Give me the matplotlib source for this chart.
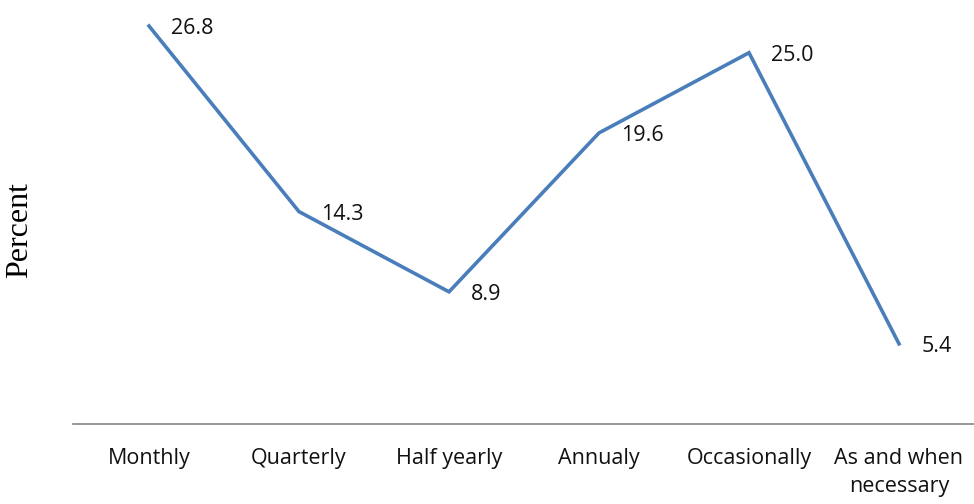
#!/usr/bin/env python3
"""Line chart of how often respondents do it, in percent."""

import matplotlib
matplotlib.use("Agg")
import matplotlib.pyplot as plt

categories = ["Monthly", "Quarterly", "Half yearly", "Annualy", "Occasionally",
              "As and when\nnecessary"]
percent = [26.8, 14.3, 8.9, 19.6, 25.0, 5.4]

LINE_COLOR = "#4a7ebb"
AXIS_COLOR = "#868686"
DPI = 100


def main() -> None:
    fig = plt.figure(figsize=(974 / DPI, 504 / DPI), dpi=DPI)
    ax = fig.add_axes([74 / 974, 80 / 504, 900 / 974, 424 / 504])

    x = list(range(len(categories)))
    ax.plot(x, percent, color=LINE_COLOR, linewidth=2.6, solid_joinstyle="miter")

    for xi, val in zip(x, percent):
        ax.annotate(f"{val:.1f}", (xi, val), xytext=(16, -2), textcoords="offset points",
                    ha="left", va="center", fontsize=15.5, family="Open Sans", color="#111111")

    ax.set_xlim(-0.5, len(categories) - 0.5)
    ax.set_ylim(0, 28.55)
    ax.set_xticks(x)
    ax.set_xticklabels(categories, fontsize=15.5, family="Open Sans", color="#111111",
                       linespacing=1.45, va="top")
    ax.tick_params(axis="x", length=0, pad=17)
    ax.set_yticks([])

    for side in ("top", "right", "left"):
        ax.spines[side].set_visible(False)
    ax.spines["bottom"].set_color(AXIS_COLOR)
    ax.spines["bottom"].set_linewidth(1.2)
    ax.spines["bottom"].set_bounds(-0.51, len(categories) - 0.5)

    ax.set_ylabel("Percent", family="Liberation Serif", fontsize=23)
    ax.yaxis.set_label_coords(-40 / 900, (424 - 230) / 424)

    fig.savefig("out.png", dpi=DPI, facecolor="white")
    plt.close(fig)


if __name__ == "__main__":
    main()
